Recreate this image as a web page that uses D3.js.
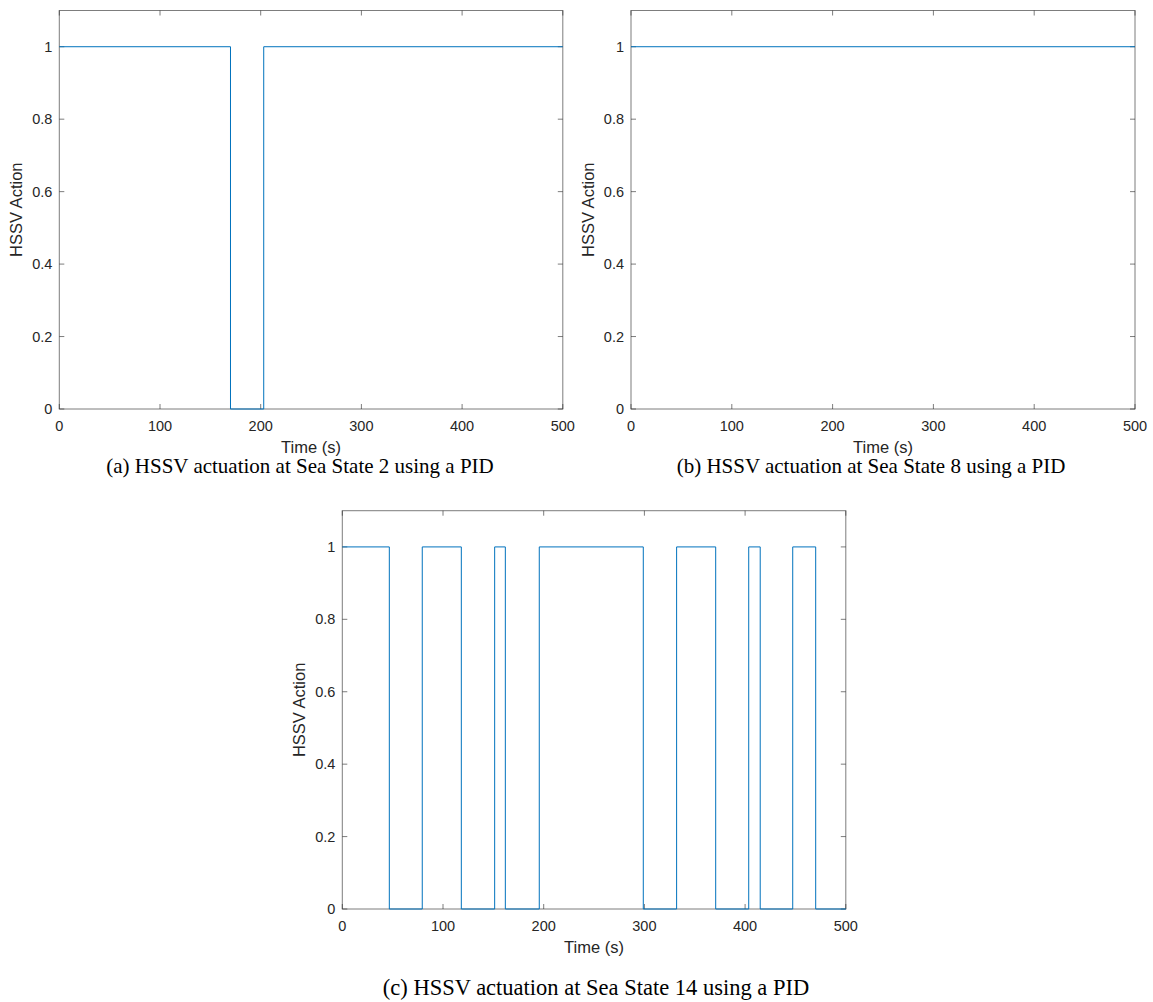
<!DOCTYPE html>
<html><head><meta charset="utf-8">
<script src="https://cdn.jsdelivr.net/npm/d3@7"></script>
<style>body{margin:0;background:#fff}svg{display:block}</style>
</head><body>
<script>
// Data: step transitions (time in s, value)
const xTicks = [0, 100, 200, 300, 400, 500];
const yTicks = [0, 0.2, 0.4, 0.6, 0.8, 1];
const seriesA = [[0,1],[170,1],[170,0],[203,0],[203,1],[500,1]];
const seriesB = [[0,1],[500,1]];
const seriesC = [[0,1],[46.7,1],[46.7,0],[79.4,0],[79.4,1],[118.2,1],[118.2,0],[151.3,0],[151.3,1],[161.9,1],[161.9,0],[195.6,0],[195.6,1],[298.9,1],[298.9,0],[332,0],[332,1],[370.8,1],[370.8,0],[403.6,0],[403.6,1],[415,1],[415,0],[447.3,0],[447.3,1],[470.1,1],[470.1,0],[500,0]];
const captions = ["(a) HSSV actuation at Sea State 2 using a PID","(b) HSSV actuation at Sea State 8 using a PID","(c) HSSV actuation at Sea State 14 using a PID"];

const svg = d3.select("body").append("svg").attr("width",1153).attr("height",1002);
const axCol = "#262626";

function panel(x0,x1,y0,y1,data,caption,capX,capY,capSize){
  const x = d3.scaleLinear().domain([0,500]).range([x0,x1]);
  const y = d3.scaleLinear().domain([0,1.1]).range([y1,y0]);
  const g = svg.append("g");
  const tl = 5;
  g.append("rect").attr("x",x0).attr("y",y0).attr("width",x1-x0).attr("height",y1-y0)
    .attr("fill","none").attr("stroke",axCol).attr("stroke-width",1).attr("stroke-opacity",0.6);
  xTicks.forEach(t=>{
    g.append("line").attr("x1",x(t)).attr("x2",x(t)).attr("y1",y1).attr("y2",y1-tl).attr("stroke",axCol).attr("stroke-opacity",0.6);
    g.append("line").attr("x1",x(t)).attr("x2",x(t)).attr("y1",y0).attr("y2",y0+tl).attr("stroke",axCol).attr("stroke-opacity",0.6);
    g.append("text").attr("x",x(t)).attr("y",y1+22).attr("text-anchor","middle")
      .attr("font-family","Liberation Sans, Arial, sans-serif").attr("font-size",14.5).attr("fill",axCol).text(t);
  });
  yTicks.forEach(t=>{
    g.append("line").attr("x1",x0).attr("x2",x0+tl).attr("y1",y(t)).attr("y2",y(t)).attr("stroke",axCol).attr("stroke-opacity",0.6);
    g.append("line").attr("x1",x1).attr("x2",x1-tl).attr("y1",y(t)).attr("y2",y(t)).attr("stroke",axCol).attr("stroke-opacity",0.6);
    g.append("text").attr("x",x0-7).attr("y",y(t)+5).attr("text-anchor","end")
      .attr("font-family","Liberation Sans, Arial, sans-serif").attr("font-size",14.5).attr("fill",axCol).text(t);
  });
  const line = d3.line().x(d=>x(d[0])).y(d=>y(d[1]));
  g.append("path").datum(data).attr("d",line).attr("fill","none").attr("stroke","#0072BD").attr("stroke-width",1);
  g.append("text").attr("x",(x0+x1)/2).attr("y",y1+44).attr("text-anchor","middle")
    .attr("font-family","Liberation Sans, Arial, sans-serif").attr("font-size",16.5).attr("fill",axCol).text("Time (s)");
  g.append("text").attr("transform",`translate(${x0-37},${(y0+y1)/2}) rotate(-90)`).attr("text-anchor","middle")
    .attr("font-family","Liberation Sans, Arial, sans-serif").attr("font-size",16.5).attr("fill",axCol).text("HSSV Action");
  g.append("text").attr("x",capX).attr("y",capY).attr("text-anchor","middle")
    .attr("font-family","Liberation Serif, Times New Roman, serif").attr("font-size",capSize).attr("fill","#000").text(caption);
}
panel(59.3,562.8,10.5,409,seriesA,captions[0],300,473,21);
panel(631,1135,10.5,409,seriesB,captions[1],871,473,21);
panel(342.3,845.8,510.7,909,seriesC,captions[2],596,995,22.5);
</script>
</body></html>
